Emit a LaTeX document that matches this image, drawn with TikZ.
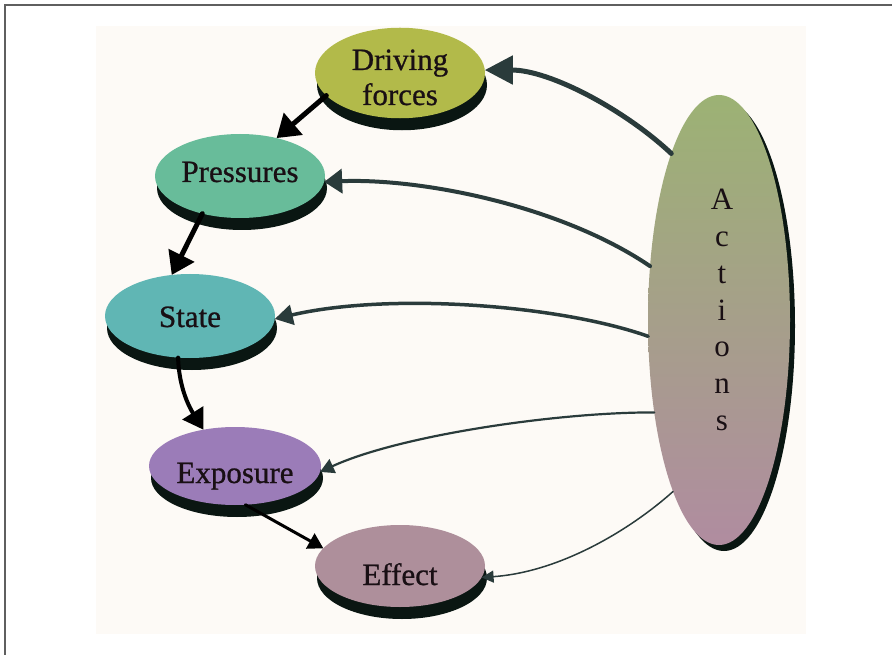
\documentclass[tikz,border=0pt]{standalone}
\usepackage{fontspec}
\setmainfont{Liberation Serif}
\newfontfamily\blobfont{Liberation Serif}[FakeBold=0.8]
\usetikzlibrary{arrows.meta,shapes.geometric,shadows}
\definecolor{bgcream}{RGB}{253,250,246}
\definecolor{framegray}{RGB}{95,95,95}
\definecolor{drvcol}{RGB}{178,186,74}
\definecolor{prscol}{RGB}{104,188,154}
\definecolor{stacol}{RGB}{96,182,180}
\definecolor{expcol}{RGB}{155,124,184}
\definecolor{effcol}{RGB}{174,143,155}
\definecolor{acttop}{RGB}{156,178,116}
\definecolor{actmid}{RGB}{168,160,138}
\definecolor{actbot}{RGB}{176,140,160}
\definecolor{shadowcol}{RGB}{10,22,18}
\definecolor{txtcol}{RGB}{25,15,20}
\definecolor{actarrow}{RGB}{42,59,59}
\begin{document}
\begin{tikzpicture}[x=1pt,y=-1pt,
  blob/.style={ellipse, inner sep=0pt, outer sep=0pt, minimum width=170pt,
    text=txtcol, font=\blobfont\fontsize{31}{35}\selectfont,
    drop shadow={shadow xshift=2pt, shadow yshift=-12pt, fill=shadowcol, opacity=1}},
  flow/.style={draw=black, line cap=round},
  act/.style={draw=actarrow, line cap=round}]
\useasboundingbox (0,0) rectangle (892,655);
\fill[white] (0,0) rectangle (892,655);
\fill[bgcream] (96,26) rectangle (806,634);
\draw[framegray, line width=1.5pt] (5,655) -- (5,5) -- (892,5);

\node[blob, fill=drvcol, minimum height=72pt, align=center, text height=64pt, text depth=0pt] (drv) at (400,73) {Driving\\forces};
\node[blob, fill=prscol, minimum height=84pt, text height=19pt, text depth=7pt] (prs) at (240,176) {Pressures};
\node[blob, fill=stacol, minimum height=84pt, text height=22pt, text depth=0pt] (sta) at (190,316) {State};
\node[blob, fill=expcol, minimum width=172pt, minimum height=78pt, text height=34pt, text depth=0pt] (exp) at (235,466) {Exposure};
\node[blob, fill=effcol, minimum height=82pt, text height=38pt, text depth=0pt] (eff) at (400,566) {Effect};

\node[ellipse, inner sep=0pt, outer sep=0pt, minimum width=142pt, minimum height=450pt,
  top color=acttop, middle color=actmid, bottom color=actbot,
  drop shadow={shadow xshift=5pt, shadow yshift=-6pt, fill=shadowcol, opacity=1}] (act) at (719,320) {};
\node[text=txtcol, font=\fontsize{31}{36.7}\selectfont, align=center, inner sep=0pt] (actlbl) at (722,310) {A\\c\\t\\i\\o\\n\\s};

% main chain
\draw[flow, line width=5pt, -{Triangle[length=22pt, width=28pt]}] (drv.197) -- (prs.46);
\draw[flow, line width=5pt, -{Triangle[length=22pt, width=28pt]}] (prs.225) -- (sta.114);
\draw[flow, line width=4pt, -{Triangle[length=20pt, width=24pt]}] (sta.254) .. controls (179,390) and (191,410) .. (exp.131);
\draw[flow, line width=3pt, -{Triangle[length=15pt, width=17pt]}] (exp.-75) -- (eff.167);

% actions
\draw[act, line width=5pt, -{Triangle[length=28pt, width=28pt]}] (act.106) .. controls (625,110) and (550,70) .. (drv.2);
\draw[act, line width=4pt, -{Triangle[length=18pt, width=24pt]}] (act.142) .. controls (560,205) and (420,178) .. (prs.-4);
\draw[act, line width=3.5pt, -{Triangle[length=18pt, width=20pt]}] (act.193) .. controls (560,305) and (390,292) .. (sta.-2);
\draw[act, line width=2.2pt, -{Triangle[length=14pt, width=15pt]}] (act.235) .. controls (560,412) and (400,435) .. (exp.-4);
\draw[act, line width=1.5pt, -{Triangle[length=12pt, width=12pt]}] (act.255) .. controls (630,530) and (560,572) .. (eff.-8);
\end{tikzpicture}
\end{document}
